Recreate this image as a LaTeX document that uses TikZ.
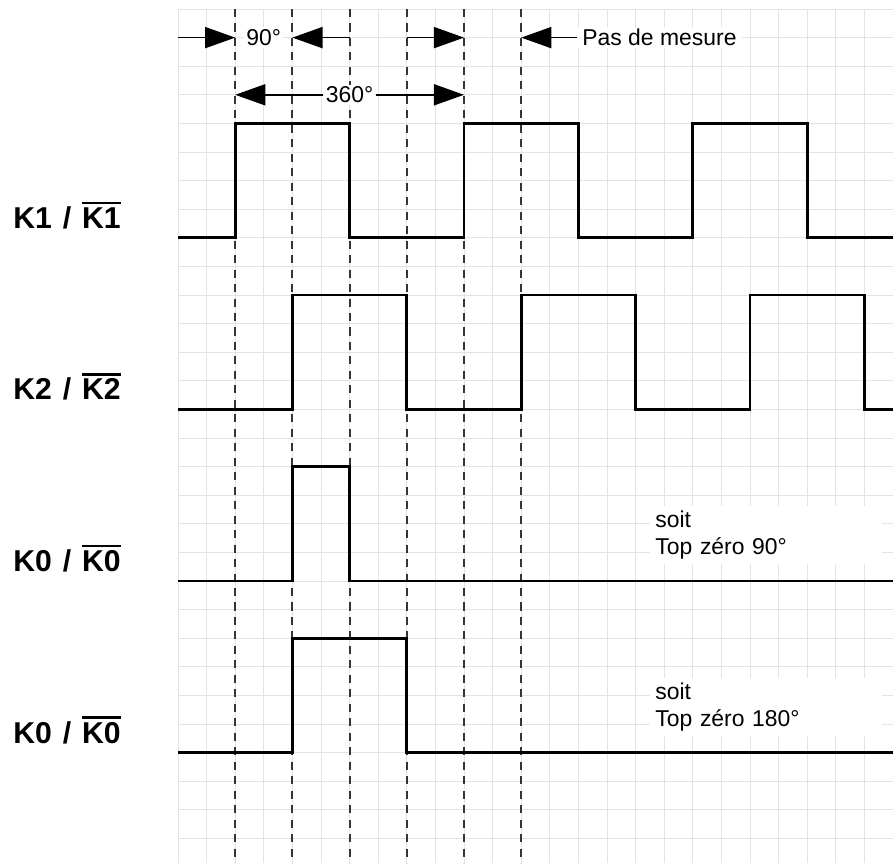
\documentclass[tikz,border=0pt]{standalone}
\usepackage{fontspec}
\setmainfont{Liberation Sans}
\usepackage{xcolor}
\usepackage{tikz}
\usetikzlibrary{arrows.meta}
\definecolor{ink}{HTML}{000000}
\definecolor{gridc}{HTML}{E3E3E3}
\definecolor{dashc}{HTML}{353535}
\newcommand{\ovl}[1]{\leavevmode\vbox{\hrule height 1.3pt\kern1.6pt\hbox{#1}}}
\tikzset{
  gridl/.style={draw=gridc, line width=0.5pt},
  sig/.style={draw=ink, line width=1.4pt, line join=miter},
  phase/.style={draw=dashc, line width=0.95pt, dash pattern=on 4pt off 3.2pt},
  dimarr/.style={draw=ink, line width=0.8pt, -{Triangle[length=15pt,width=10.5pt]}},
  txt/.style={text=ink, fill=white, inner xsep=1pt, inner ysep=1pt, font=\fontsize{11.4}{13.4}\selectfont},
  note/.style={txt, anchor=west, align=left, text width=3.87cm, inner xsep=2.55pt, inner ysep=2.3pt},
  siglab/.style={text=ink, anchor=base west, inner sep=0pt, font=\fontsize{15}{18}\selectfont\bfseries},
}

\begin{document}
\begin{tikzpicture}[x=0.5cm, y=-0.5cm]
  \useasboundingbox (-6.224,-0.315) rectangle (25,29.86);

  % grid
  \foreach \i in {0,...,25} \draw[gridl] (\i,0) -- (\i,29.86);
  \foreach \j in {0,...,29} \draw[gridl] (0,\j) -- (25,\j);

  % phase marks
  \foreach \x in {2,4,...,12} \draw[phase] (\x,0) -- (\x,29.86);

  % signals
  \draw[sig] (0,8) -| (2,4) -| (6,8) -| (10,4) -| (14,8) -| (18,4) -| (22,8) -- (25,8);
  \draw[sig] (0,14) -| (4,10) -| (8,14) -| (12,10) -| (16,14) -| (20,10) -| (24,14) -- (25,14);
  \draw[sig] (0,20) -| (4,16) -| (6,20) -- (25,20);
  \draw[sig] (0,26) -| (4,22) -| (8,26) -- (25,26);

  \foreach \y/\k in {8/K1, 14/K2, 20/K0, 26/K0}
    \node[siglab] (lab\y) at (-5.77,\y-0.33) {\k\hspace{1.3pt}\ /\ \hspace{1.2pt}\ovl{\k}};

  % measuring step
  \foreach \x in {0,2,...,12} \coordinate (p\x) at (\x,1);
  \node[txt] (n90) at (3,1) {90°};
  \node[txt, anchor=west, inner xsep=2.5pt] (pas) at (13.95,1) {Pas de mesure};
  \draw[dimarr] (p0) -- (p2);
  \draw[dimarr] (p6) -- (p4);
  \draw[dimarr] (p8) -- (p10);
  \draw[dimarr] (pas) -- (p12);

  % period
  \coordinate (q2) at (2,3);
  \coordinate (q10) at (10,3);
  \node[txt] (n360) at (6,3) {360°};
  \draw[dimarr] (n360) -- (q2);
  \draw[dimarr] (n360) -- (q10);

  \node[note] (z90) at (16.5,18.4) {soit\\Top zéro 90°};
  \node[note] (z180) at (16.5,24.4) {soit\\Top zéro 180°};
\end{tikzpicture}
\end{document}
